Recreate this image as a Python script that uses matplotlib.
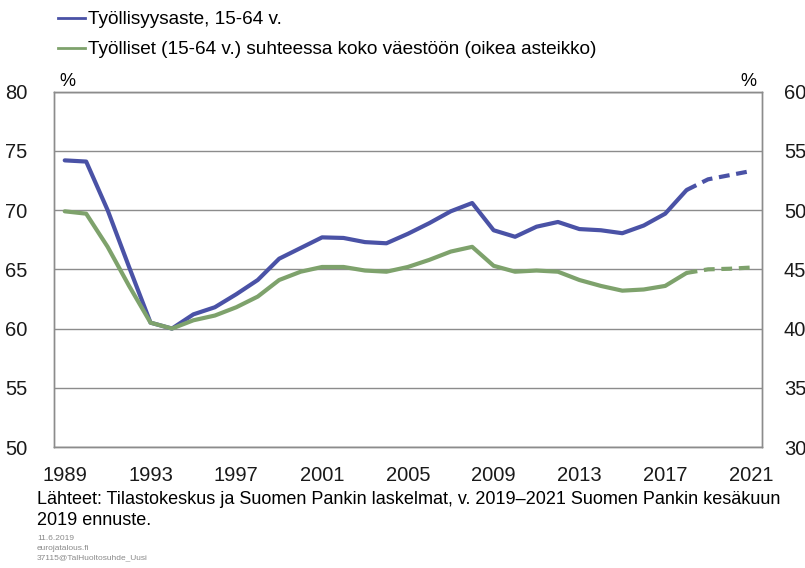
import matplotlib.pyplot as plt
from matplotlib.lines import Line2D

plt.rcParams['font.family'] = ['Liberation Sans', 'DejaVu Sans']

# Data
years = list(range(1989, 2022))
rate = [74.2, 74.1, 70.0, 65.2, 60.5, 60.0, 61.2, 61.8, 62.9, 64.1,
        65.9, 66.8, 67.7, 67.65, 67.3, 67.2, 68.0, 68.9, 69.9, 70.6,
        68.3, 67.75, 68.6, 69.0, 68.4, 68.3, 68.05, 68.7, 69.7, 71.7,
        72.6, 72.95, 73.3]
share = [49.9, 49.7, 46.9, 43.6, 40.5, 40.0, 40.7, 41.1, 41.8, 42.7,
         44.1, 44.8, 45.2, 45.2, 44.9, 44.8, 45.2, 45.8, 46.5, 46.9,
         45.3, 44.8, 44.9, 44.8, 44.1, 43.6, 43.2, 43.3, 43.6, 44.7,
         45.0, 45.05, 45.15]
forecast_start = 2018
year_labels = [str(y) for y in range(1989, 2022, 4)]

BLUE = "#4a52a6"
GREEN = "#7ea26c"
GREY = "#8c8c8c"

fig = plt.figure(figsize=(8.05, 5.68), dpi=100)
ax = fig.add_axes([0.0671, 0.2130, 0.8791, 0.6256])
ax2 = ax.twinx()

x = list(range(len(years)))
k = years.index(forecast_start)

# history solid, forecast dashed
ax.plot(x[:k + 1], rate[:k + 1], color=BLUE, lw=3, solid_capstyle="round", zorder=3)
ax.plot(x[k:], rate[k:], color=BLUE, lw=3, ls=(0, (2.6, 1.6)), zorder=3)
ax2.plot(x[:k + 1], share[:k + 1], color=GREEN, lw=3, solid_capstyle="round", zorder=3)
ax2.plot(x[k:], share[k:], color=GREEN, lw=3, ls=(0, (2.6, 1.6)), zorder=3)

ax.set_xlim(-0.5, len(years) - 0.5)
ax.set_ylim(50, 80)
ax2.set_ylim(30, 60)
ax.set_yticks(range(50, 81, 5))
ax2.set_yticks(range(30, 61, 5))
ax.set_xticks(range(0, len(years), 4))
ax.set_xticklabels(year_labels)

ax.grid(axis="y", color=GREY, lw=1)
ax.set_axisbelow(True)
ax.tick_params(axis="both", length=0, labelsize=14.5, colors="#1a1a1a")
ax.tick_params(axis="y", pad=19)
ax.tick_params(axis="x", pad=14)
ax2.tick_params(axis="y", length=0, labelsize=14.5, colors="#1a1a1a", pad=16)
for a in (ax, ax2):
    for s in a.spines.values():
        s.set_color(GREY)
        s.set_linewidth(1)

ax.text(0.008, 1.005, "%", transform=ax.transAxes, fontsize=13, ha="left", va="bottom")
ax2.text(0.992, 1.005, "%", transform=ax2.transAxes, fontsize=13, ha="right", va="bottom")

handles = [Line2D([], [], color=BLUE, lw=2),
           Line2D([], [], color=GREEN, lw=2)]
labels = ["Työllisyysaste, 15-64 v.",
          "Työlliset (15-64 v.) suhteessa koko väestöön (oikea asteikko)"]
fig.legend(handles, labels, loc="upper left", bbox_to_anchor=(0.051, 1.011),
           frameon=False, fontsize=13.7, handlelength=1.42, handletextpad=0.14,
           labelspacing=0.68)

fig.text(0.046, 0.102, "Lähteet: Tilastokeskus ja Suomen Pankin laskelmat, v. 2019–2021 Suomen Pankin kesäkuun\n2019 ennuste.",
         fontsize=13, ha="left", va="center", linespacing=1.36)
fig.text(0.046, 0.035, "11.6.2019\neurojatalous.fi\n37115@TalHuoltosuhde_Uusi",
         fontsize=6, color="#8a8a8a", ha="left", va="center", linespacing=1.55)

fig.savefig("out.png", dpi=100)
